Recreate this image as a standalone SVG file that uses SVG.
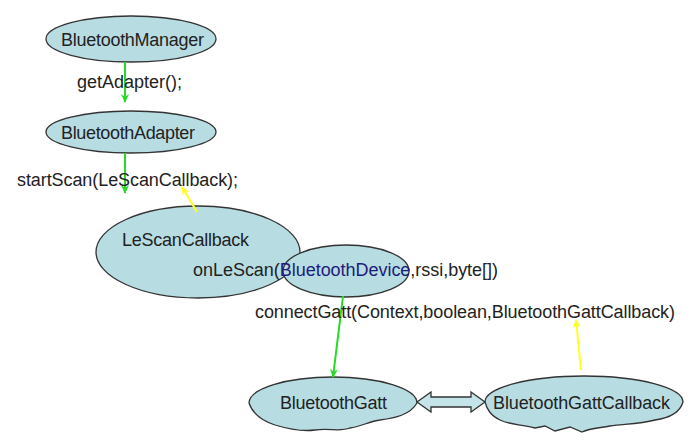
<svg xmlns="http://www.w3.org/2000/svg" width="699" height="444" viewBox="0 0 699 444">
<defs>
<style>
.n{fill:#b7dde3;stroke:#333;stroke-width:1.3}
.t{font-family:"Liberation Sans",Arial,sans-serif;font-size:18px;fill:#222}
.g{stroke:#22dd22;stroke-width:2;fill:none}
.y{stroke:#ffff22;stroke-width:2;fill:none}
</style>
<marker id="ag" markerWidth="10" markerHeight="10" refX="8" refY="5" orient="auto" markerUnits="userSpaceOnUse"><path d="M0,1 L9,5 L0,9 L3,5 Z" fill="#22dd22"/></marker>
<marker id="ay" markerWidth="10" markerHeight="10" refX="8" refY="5" orient="auto" markerUnits="userSpaceOnUse"><path d="M0,1 L9,5 L0,9 L3,5 Z" fill="#ffff22"/></marker>
</defs>
<rect width="699" height="444" fill="#fff"/>
<g id="BluetoothManager"><ellipse class="n" cx="131" cy="39" rx="85" ry="23"/><text class="t" x="61" y="46" textLength="143">BluetoothManager</text></g>
<g id="BluetoothAdapter"><ellipse class="n" cx="131" cy="132" rx="85" ry="21"/><text class="t" x="61" y="139" textLength="134">BluetoothAdapter</text></g>
<g id="LeScanCallback"><ellipse class="n" cx="198" cy="252" rx="102" ry="46"/><text class="t" x="122" y="246" textLength="127">LeScanCallback</text></g>
<g id="BluetoothDevice"><ellipse class="n" cx="346" cy="271" rx="63" ry="26"/></g>
<text class="t" x="193" y="276" textLength="305">onLeScan(<tspan fill="#1c1c7a">BluetoothDevice</tspan>,rssi,byte[])</text>
<g id="BluetoothGatt"><path class="n" d="M249,403 A84,26 0 0 1 417,403 C410,415 395,418 380,420 C370,421 360,427 350,428 C340,432 330,428 315,430 C300,432 285,428 275,425 C260,420 252,412 249,403 Z"/><text class="t" x="280" y="409" textLength="107">BluetoothGatt</text></g>
<g id="BluetoothGattCallback"><path class="n" d="M485,402 A99,26 0 0 1 683,402 C680,412 670,418 655,420 C640,424 625,424 610,426 C600,428 590,428 582,432 L570,427 L555,431 L545,426 L535,428 C520,424 510,425 500,420 C490,415 487,409 485,402 Z"/><text class="t" x="493" y="409" textLength="177">BluetoothGattCallback</text></g>
<g id="connectors">
<line class="g" x1="125" y1="62" x2="125" y2="102" marker-end="url(#ag)"/>
<line class="g" x1="125" y1="153" x2="125" y2="193" marker-end="url(#ag)"/>
<line class="y" x1="197" y1="212" x2="182" y2="187" marker-end="url(#ay)"/>
<line class="g" x1="343" y1="296" x2="333" y2="377" marker-end="url(#ag)"/>
<line class="y" x1="581" y1="370" x2="576" y2="320" marker-end="url(#ay)"/>
<polygon points="417,402 431,392 431,397 471,397 471,392 485,402 471,412 471,407 431,407 431,412" fill="#c5e4e9" stroke="#333" stroke-width="1.3"/>
</g>
<text class="t" x="77" y="88" textLength="105">getAdapter();</text>
<text class="t" x="17" y="186" textLength="221">startScan(LeScanCallback);</text>
<text class="t" x="255" y="318" textLength="420">connectGatt(Context,boolean,BluetoothGattCallback)</text>
</svg>
